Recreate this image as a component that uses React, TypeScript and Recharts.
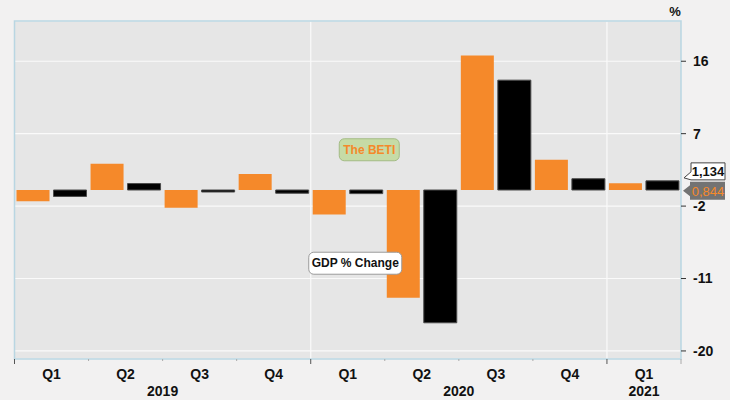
import {
  BarChart,
  Bar,
  XAxis,
  YAxis,
  CartesianGrid,
  ReferenceArea,
  ReferenceLine,
  ReferenceDot,
} from "recharts";

const quarters = ["Q1", "Q2", "Q3", "Q4", "Q1", "Q2", "Q3", "Q4", "Q1"];
const years = ["2019", "2019", "2019", "2019", "2020", "2020", "2020", "2020", "2021"];
const betiChange = [-1.4, 3.25, -2.2, 2.0, -3.05, -13.4, 16.7, 3.75, 0.844];
const gdpChange = [-0.8, 0.8, -0.25, -0.4, -0.45, -16.5, 13.65, 1.4, 1.134];
const yTicks = [-20, -11, -2, 7, 16];

const ORANGE = "#f5892a";
const FONT = '"Liberation Sans", Arial, sans-serif';

const data = quarters.map((q, i) => ({
  key: `${years[i]} ${q}`,
  beti: betiChange[i],
  gdp: gdpChange[i],
}));

// index where a new year starts
const yearStarts = years
  .map((y, i) => (i === 0 || years[i - 1] !== y ? i : -1))
  .filter((i) => i >= 0);

// center of each year group, in category units
const yearCenters = yearStarts.map((start, k) => {
  const end = k + 1 < yearStarts.length ? yearStarts[k + 1] - 1 : years.length - 1;
  return { label: years[start], center: (start + end) / 2 };
});

function QuarterTick(props: any) {
  const { x, y, payload, width } = props;
  const i = payload?.index ?? props.index;
  const band = (width || 666) / quarters.length;
  const isYearStart = yearStarts.includes(i);
  const left = x - band / 2;
  const yearLabel = yearCenters.find((c) => Math.floor(c.center) === i);
  return (
    <g>
      <line
        x1={left}
        x2={left}
        y1={y}
        y2={y + (isYearStart ? 5 : 2)}
        stroke={isYearStart ? "#555" : "#aaa"}
      />
      {i === quarters.length - 1 && (
        <line x1={x + band / 2} x2={x + band / 2} y1={y} y2={y + 5} stroke="#aaa" />
      )}
      <text
        x={x}
        y={y + 20}
        textAnchor="middle"
        fontFamily={FONT}
        fontWeight="bold"
        fontSize={14}
        fill="#111"
      >
        {quarters[i]}
      </text>
      {yearLabel && (
        <text
          x={x + (yearLabel.center - i) * band}
          y={y + 37}
          textAnchor="middle"
          fontFamily={FONT}
          fontWeight="bold"
          fontSize={14}
          fill="#111"
        >
          {yearLabel.label}
        </text>
      )}
    </g>
  );
}

function GdpCallout(props: any) {
  const { viewBox } = props;
  const x = viewBox.x + viewBox.width;
  const y = viewBox.y;
  return (
    <g>
      <path
        d={`M${x + 10},${y - 18} L${x + 44},${y - 18} L${x + 44},${y - 1} L${x + 10},${y - 1} L${x + 3},${y - 3} L${x + 10},${y - 9} Z`}
        fill="#fff"
        stroke="#444"
        strokeWidth={1}
      />
      <text x={x + 27} y={y - 5} textAnchor="middle" fontFamily={FONT} fontWeight="bold" fontSize={13} fill="#111">
        1,134
      </text>
    </g>
  );
}

function BetiCallout(props: any) {
  const { viewBox } = props;
  const x = viewBox.x + viewBox.width;
  const y = viewBox.y;
  return (
    <g>
      <path
        d={`M${x + 9},${y - 1.5} L${x + 44},${y - 1.5} L${x + 44},${y + 16.5} L${x + 9},${y + 16.5} L${x + 9},${y + 13} L${x + 2},${y + 7.5} L${x + 9},${y + 2} Z`}
        fill="#737373"
      />
      <text x={x + 27} y={y + 12.5} textAnchor="middle" fontFamily={FONT} fontSize={13} fill={ORANGE}>
        0,844
      </text>
    </g>
  );
}

function BetiTag(props: any) {
  const { viewBox } = props;
  const cx = viewBox.x + 21.5;
  const cy = viewBox.y;
  return (
    <g>
      <rect x={cx - 30} y={cy - 11} width={60} height={22} rx={5} fill="#c6dba6" stroke="#a3bb85" />
      <text x={cx} y={cy + 4} textAnchor="middle" fontFamily={FONT} fontWeight="bold" fontSize={12} fill={ORANGE}>
        The BETI
      </text>
    </g>
  );
}

function GdpTag(props: any) {
  const { viewBox } = props;
  const cx = viewBox.x + 7.5;
  const cy = viewBox.y;
  return (
    <g>
      <rect x={cx - 46.5} y={cy - 11} width={93} height={22} rx={5} fill="#fff" stroke="#9a9a9a" />
      <text x={cx} y={cy + 4} textAnchor="middle" fontFamily={FONT} fontWeight="bold" fontSize={12} fill="#111">
        GDP % Change
      </text>
    </g>
  );
}

function PercentLabel(props: any) {
  const { viewBox } = props;
  return (
    <text
      x={viewBox.x - 6}
      y={viewBox.y - 5}
      textAnchor="middle"
      fontFamily={FONT}
      fontWeight="bold"
      fontSize={13}
      fill="#111"
    >
      %
    </text>
  );
}

export default function App() {
  return (
    <div style={{ position: "absolute", left: 0, top: 0, width: 730, height: 400, background: "#f2f1f1" }}>
      <BarChart
        width={730}
        height={400}
        data={data}
        margin={{ top: 21, right: 0, bottom: 0, left: 14.5 }}
        barCategoryGap={2}
        barGap={4}
      >
        <CartesianGrid
          fill="#e6e6e6"
          stroke="#fafafa"
          strokeWidth={1.2}
          verticalCoordinatesGenerator={({ offset }: any) =>
            yearStarts
              .filter((i) => i > 0)
              .map((i) => offset.left + (offset.width * i) / quarters.length)
          }
        />
        <XAxis
          dataKey="key"
          height={41}
          axisLine={false}
          tickLine={false}
          tickSize={0}
          tickMargin={0}
          interval={0}
          tick={<QuarterTick />}
        />
        <YAxis
          orientation="right"
          width={49}
          domain={[-21, 21]}
          ticks={yTicks}
          axisLine={false}
          tickSize={5}
          tickMargin={7}
          tickLine={{ stroke: "#333" }}
          tick={{ fill: "#111", fontSize: 14, fontWeight: "bold", fontFamily: FONT }}
          label={<PercentLabel />}
        />
        <ReferenceArea y1={-21} y2={21} fill="none" stroke="#b9d6e2" strokeWidth={1.5} />
        <Bar dataKey="beti" fill={ORANGE} isAnimationActive={false} />
        <Bar dataKey="gdp" fill="#000" stroke="#4a4a4a" strokeWidth={1} isAnimationActive={false} />
        <ReferenceDot x="2020 Q1" y={5} r={0} fill="none" stroke="none" label={<BetiTag />} />
        <ReferenceDot x="2020 Q1" y={-9.1} r={0} fill="none" stroke="none" label={<GdpTag />} />
        <ReferenceLine y={gdpChange[gdpChange.length - 1]} stroke="none" label={<GdpCallout />} />
        <ReferenceLine y={betiChange[betiChange.length - 1]} stroke="none" label={<BetiCallout />} />
      </BarChart>
    </div>
  );
}
